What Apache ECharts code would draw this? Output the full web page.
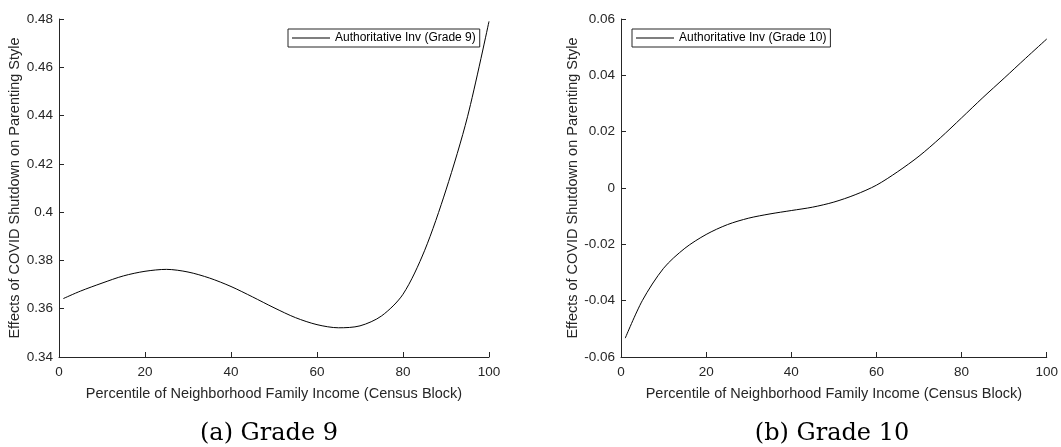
<!DOCTYPE html>
<html>
<head>
<meta charset="utf-8">
<script src="https://cdn.jsdelivr.net/npm/echarts@6/dist/echarts.min.js"></script>
<style>
html,body{margin:0;padding:0;background:#fff;}
#chart{width:1061px;height:447px;}
</style>
</head>
<body>
<div id="chart"></div>
<script>
// ---- data ----
const percentiles = [1, 5, 10, 15, 20, 25, 30, 35, 40, 45, 50, 55, 60, 65, 70, 75, 80, 85, 90, 95, 100];
const grade9Values = [0.3642, 0.3673, 0.3706, 0.3736, 0.3755, 0.3763, 0.3752, 0.3727, 0.3692, 0.3649, 0.3604, 0.3563, 0.3534, 0.3521, 0.3529, 0.3570, 0.3660, 0.3840, 0.4092, 0.4395, 0.4790];
const grade10Values = [-0.0533, -0.0400, -0.0285, -0.0214, -0.0165, -0.0130, -0.0107, -0.0092, -0.0080, -0.0068, -0.0050, -0.0024, 0.0010, 0.0058, 0.0113, 0.0178, 0.0249, 0.0321, 0.0390, 0.0460, 0.0529];
const seriesNames = ['Authoritative Inv (Grade 9)', 'Authoritative Inv (Grade 10)'];
const captions = ['(a) Grade 9', '(b) Grade 10'];
const xAxisTitle = 'Percentile of Neighborhood Family Income (Census Block)';
const yAxisTitle = 'Effects of COVID Shutdown on Parenting Style';

const pairs = (vals) => percentiles.map((p, i) => [p, vals[i]]);
const AX = '#262626';
const FONT = 'Liberation Sans';

function xAx(gi) {
  return {
    type: 'value', gridIndex: gi, min: 0, max: 100, interval: 20,
    name: xAxisTitle, nameLocation: 'middle', nameGap: 29,
    nameTextStyle: {fontFamily: FONT, fontSize: 14.5, color: AX},
    axisLine: {show: true, onZero: false, lineStyle: {color: AX, width: 1}},
    axisTick: {show: true, inside: true, length: 5, lineStyle: {color: AX}},
    axisLabel: {fontFamily: FONT, fontSize: 13.5, color: AX, margin: 8},
    splitLine: {show: false}
  };
}
function yAx(gi, mn, mx, gap) {
  return {
    type: 'value', gridIndex: gi, min: mn, max: mx, interval: 0.02,
    name: yAxisTitle, nameLocation: 'middle', nameGap: gap, nameRotate: 90,
    nameTextStyle: {fontFamily: FONT, fontSize: 14.5, color: AX},
    axisLine: {show: true, onZero: false, lineStyle: {color: AX, width: 1}},
    axisTick: {show: true, inside: true, length: 5, lineStyle: {color: AX}},
    axisLabel: {fontFamily: FONT, fontSize: 13.5, color: AX, margin: 6,
      formatter: (v) => (Math.abs(v) < 1e-9 ? '0' : String(+v.toFixed(2)))},
    splitLine: {show: false}
  };
}
function legend(left, name) {
  return {
    left: left, top: 29, orient: 'horizontal',
    data: [{name: name, icon: 'rect'}],
    borderColor: AX, borderWidth: 1, padding: [3, 4, 3, 4],
    itemWidth: 38, itemHeight: 1, itemGap: 5,
    itemStyle: {color: '#000'},
    textStyle: {fontFamily: FONT, fontSize: 12, color: '#000', padding: [0, 0, 0, 0]},
    selectedMode: false
  };
}

const chart = echarts.init(document.getElementById('chart'), null, {renderer: 'canvas'});
chart.setOption({
  animation: false,
  backgroundColor: '#fff',
  grid: [
    {left: 59, top: 19, width: 430, height: 338, containLabel: false},
    {left: 621, top: 19, width: 429, height: 338, containLabel: false}
  ],
  xAxis: [xAx(0), xAx(1)],
  yAxis: [yAx(0, 0.34, 0.48, 36), yAx(1, -0.06, 0.06, 41)],
  legend: [legend(288, seriesNames[0]), legend(632, seriesNames[1])],
  title: [
    {text: captions[0], left: 264, top: 417, textAlign: 'center',
     textStyle: {fontFamily: 'DejaVu Serif', fontSize: 24, fontWeight: 'normal', color: '#000'}},
    {text: captions[1], left: 827, top: 417, textAlign: 'center',
     textStyle: {fontFamily: 'DejaVu Serif', fontSize: 24, fontWeight: 'normal', color: '#000'}}
  ],
  series: [
    {name: seriesNames[0], type: 'line', xAxisIndex: 0, yAxisIndex: 0, data: pairs(grade9Values),
     symbol: 'none', smooth: 0.3, lineStyle: {color: '#000', width: 1}, itemStyle: {color: '#000'}},
    {name: seriesNames[1], type: 'line', xAxisIndex: 1, yAxisIndex: 1, data: pairs(grade10Values),
     symbol: 'none', smooth: 0.3, lineStyle: {color: '#000', width: 1}, itemStyle: {color: '#000'}}
  ]
});
</script>
</body>
</html>
